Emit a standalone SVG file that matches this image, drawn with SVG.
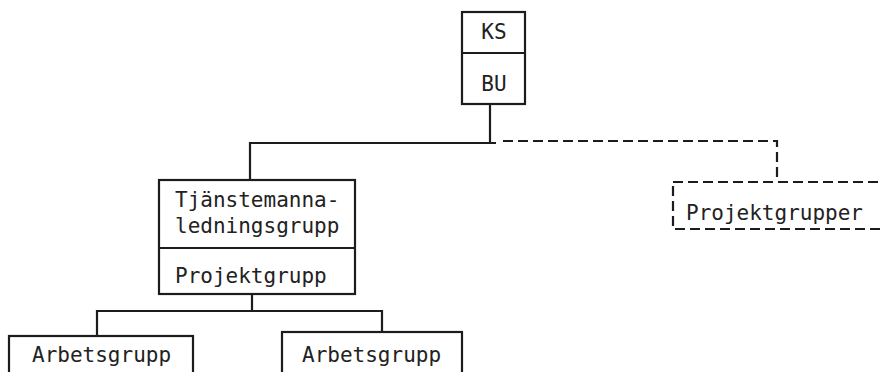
<svg xmlns="http://www.w3.org/2000/svg" width="881" height="372" viewBox="0 0 881 372">
  <style>
    .box { fill: none; stroke: #1c1c1c; stroke-width: 2.2; }
    .dash { fill: none; stroke: #1c1c1c; stroke-width: 2.2; stroke-dasharray: 10 5; }
    .wire { fill: none; stroke: #1c1c1c; stroke-width: 2.2; }
    .lbl { font-family: "DejaVu Sans Mono", "Liberation Mono", monospace; font-size: 21px; fill: #222; }
  </style>
  <rect width="881" height="372" fill="#ffffff"/>

  <!-- connectors -->
  <g id="connectors">
    <path class="wire" d="M490,104 V143"/>
    <path class="wire" d="M250,180 V143 H496"/>
    <path class="dash" d="M503,141 H777 V182"/>
    <path class="wire" d="M252,294 V311"/>
    <path class="wire" d="M97,336 V311 H382 V332"/>
  </g>

  <!-- KS / BU -->
  <g id="ks-bu">
    <rect class="box" x="462" y="12" width="63" height="92"/>
    <line class="box" x1="462" y1="53" x2="525" y2="53"/>
    <text class="lbl" x="494" y="39" text-anchor="middle">KS</text>
    <text class="lbl" x="494" y="91" text-anchor="middle">BU</text>
  </g>

  <!-- Tjänstemannaledningsgrupp / Projektgrupp -->
  <g id="tjanstemannaledningsgrupp">
    <rect class="box" x="159" y="180" width="196" height="114"/>
    <line class="box" x1="159" y1="248" x2="355" y2="248"/>
    <text class="lbl" x="175" y="207">Tjänstemanna-</text>
    <text class="lbl" x="175" y="233">ledningsgrupp</text>
    <text class="lbl" x="175" y="283">Projektgrupp</text>
  </g>

  <!-- Projektgrupper (dashed) -->
  <g id="projektgrupper">
    <rect class="dash" x="673" y="182" width="230" height="47"/>
    <text class="lbl" x="686" y="220">Projektgrupper</text>
  </g>

  <!-- Arbetsgrupp, left -->
  <g id="arbetsgrupp-1">
    <rect class="box" x="9" y="336" width="184" height="50"/>
    <text class="lbl" x="32" y="362">Arbetsgrupp</text>
  </g>

  <!-- Arbetsgrupp, right -->
  <g id="arbetsgrupp-2">
    <rect class="box" x="282" y="332" width="180" height="54"/>
    <text class="lbl" x="302" y="362">Arbetsgrupp</text>
  </g>
</svg>
